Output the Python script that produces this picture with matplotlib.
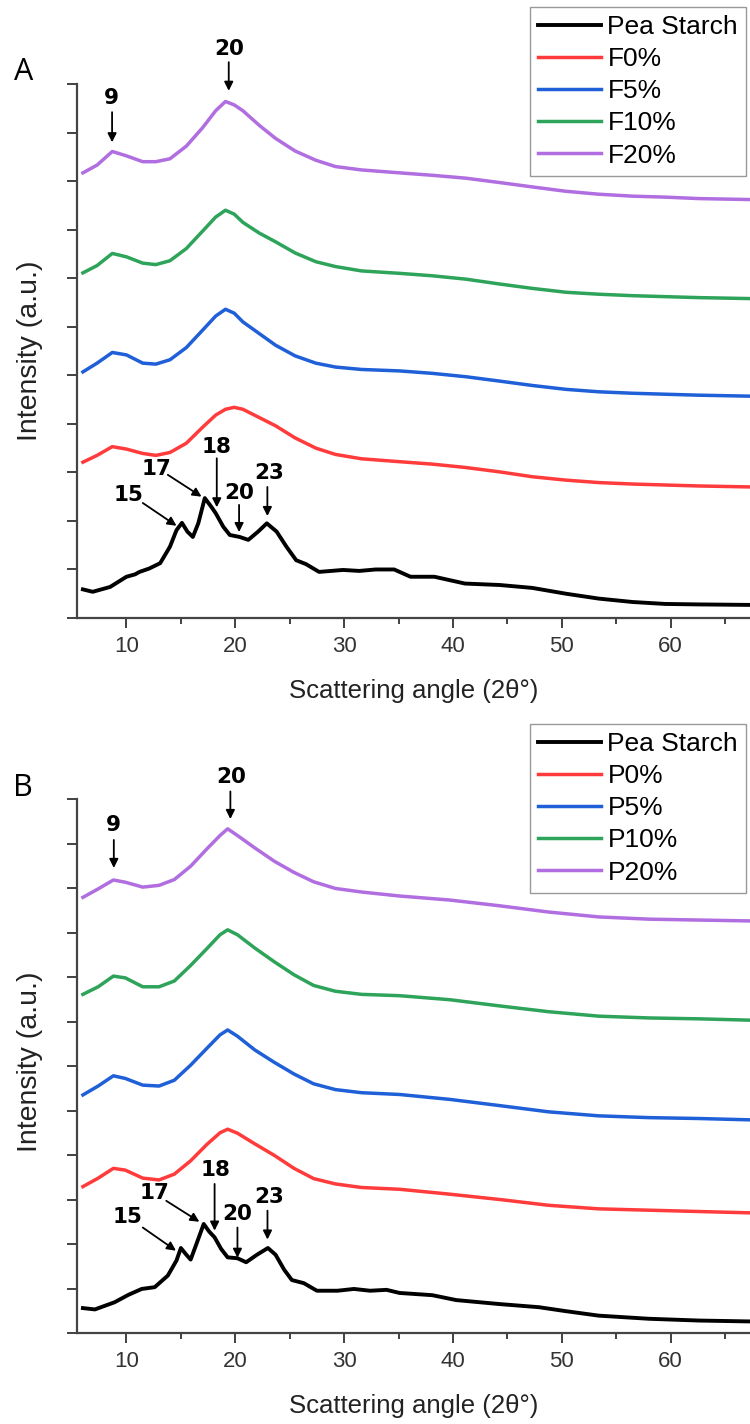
import matplotlib.pyplot as plt

# ---- panel A : F series ----
angle_pea_a = [6.0, 6.9, 8.5, 10.0, 10.8, 11.2, 12.1, 13.1, 14.0, 14.6, 15.1, 15.6, 16.1, 16.6, 17.2,
               17.8, 18.2, 18.9, 19.5, 20.4, 21.2, 22.1, 22.9, 23.8, 24.7, 25.6, 26.5, 27.7, 29.9,
               31.4, 32.9, 34.6, 36.1, 38.3, 41.1, 44.3, 47.3, 50.4, 53.4, 56.5, 59.5, 62.6, 67.3]
pea_a = [0.59, 0.54, 0.64, 0.85, 0.90, 0.95, 1.02, 1.13, 1.47, 1.81, 1.96, 1.78, 1.67, 1.95, 2.47,
         2.29, 2.16, 1.88, 1.71, 1.67, 1.61, 1.78, 1.95, 1.78, 1.47, 1.19, 1.11, 0.95, 0.99,
         0.97, 1.00, 1.00, 0.85, 0.85, 0.71, 0.68, 0.62, 0.50, 0.40, 0.33, 0.29, 0.28, 0.27]

angle_f = [6.0, 7.3, 8.7, 10.0, 11.5, 12.7, 14.0, 15.5, 17.0, 18.2, 19.1, 19.9, 20.7, 22.2, 23.7,
           25.5, 27.4, 29.2, 31.6, 35.1, 38.1, 41.2, 44.3, 47.3, 50.4, 53.4, 56.5, 59.5, 62.6, 67.3]
f0 = [3.21, 3.35, 3.53, 3.48, 3.39, 3.35, 3.41, 3.60, 3.93, 4.18, 4.30, 4.34, 4.30, 4.13, 3.96,
      3.71, 3.50, 3.37, 3.28, 3.22, 3.17, 3.10, 3.01, 2.91, 2.84, 2.79, 2.76, 2.74, 2.72, 2.70]
f5 = [5.07, 5.25, 5.47, 5.42, 5.25, 5.23, 5.32, 5.57, 5.93, 6.22, 6.36, 6.28, 6.10, 5.86, 5.62,
      5.40, 5.25, 5.17, 5.12, 5.09, 5.04, 4.97, 4.88, 4.79, 4.71, 4.66, 4.63, 4.61, 4.59, 4.57]
f10 = [7.11, 7.26, 7.51, 7.44, 7.31, 7.28, 7.36, 7.61, 7.97, 8.26, 8.40, 8.32, 8.15, 7.93, 7.75,
       7.52, 7.34, 7.24, 7.15, 7.10, 7.05, 6.98, 6.88, 6.79, 6.71, 6.67, 6.64, 6.62, 6.60, 6.58]
f20 = [9.17, 9.33, 9.61, 9.52, 9.40, 9.40, 9.46, 9.72, 10.10, 10.45, 10.64, 10.57, 10.45, 10.15, 9.88,
       9.62, 9.43, 9.30, 9.23, 9.17, 9.12, 9.06, 8.97, 8.88, 8.79, 8.73, 8.69, 8.67, 8.64, 8.62]

# ---- panel B : P series ----
angle_pea_b = [6.0, 7.1, 8.9, 10.2, 11.4, 12.6, 13.8, 14.6, 15.0, 15.5, 15.9, 16.4, 17.1, 17.6,
               18.1, 18.7, 19.3, 20.2, 21.0, 22.0, 23.0, 23.7, 24.5, 25.2, 26.3, 27.5, 29.4, 30.9,
               32.4, 33.9, 35.1, 38.1, 40.3, 44.3, 47.9, 50.4, 53.4, 58.0, 62.6, 67.3]
pea_b = [0.56, 0.53, 0.69, 0.86, 0.99, 1.03, 1.29, 1.63, 1.91, 1.76, 1.65, 1.98, 2.45, 2.28,
         2.15, 1.89, 1.70, 1.68, 1.59, 1.76, 1.91, 1.76, 1.42, 1.19, 1.12, 0.95, 0.95, 0.99,
         0.95, 0.97, 0.90, 0.85, 0.74, 0.65, 0.58, 0.49, 0.39, 0.32, 0.28, 0.26]

angle_p = [6.0, 7.4, 8.8, 9.9, 11.5, 13.0, 14.4, 15.9, 17.4, 18.6, 19.3, 20.2, 21.8, 23.6, 25.4,
           27.2, 29.2, 31.6, 35.1, 39.7, 44.3, 48.8, 53.4, 58.0, 62.6, 67.3]
p0 = [3.29, 3.48, 3.70, 3.66, 3.48, 3.44, 3.57, 3.87, 4.24, 4.50, 4.58, 4.49, 4.25, 3.99, 3.70,
      3.47, 3.35, 3.27, 3.23, 3.12, 3.00, 2.87, 2.79, 2.76, 2.73, 2.70]
p5 = [5.35, 5.55, 5.78, 5.72, 5.57, 5.55, 5.68, 6.02, 6.40, 6.70, 6.81, 6.67, 6.36, 6.08, 5.82,
      5.60, 5.47, 5.40, 5.36, 5.25, 5.11, 4.97, 4.88, 4.84, 4.82, 4.79]
p10 = [7.61, 7.78, 8.02, 7.98, 7.78, 7.78, 7.91, 8.26, 8.64, 8.95, 9.06, 8.95, 8.65, 8.34, 8.05,
       7.81, 7.68, 7.61, 7.58, 7.49, 7.35, 7.22, 7.12, 7.08, 7.06, 7.03]
p20 = [9.79, 9.98, 10.18, 10.13, 10.02, 10.06, 10.19, 10.49, 10.88, 11.18, 11.33, 11.18, 10.90, 10.60, 10.35,
       10.14, 9.99, 9.91, 9.82, 9.73, 9.60, 9.46, 9.35, 9.30, 9.28, 9.26]

colors = ["black", "#ff3b3b", "#1f5fd8", "#2ea35a", "#b06ee0"]
labels_a = ["Pea Starch", "F0%", "F5%", "F10%", "F20%"]
labels_b = ["Pea Starch", "P0%", "P5%", "P10%", "P20%"]

# peak labels: (text, text x, text y, arrow x from, y from, arrow x to, y to)
notes_a = [("9", 8.65, 10.72, 8.68, 10.42, 8.68, 9.80),
           ("20", 19.4, 11.72, 19.4, 11.45, 19.4, 10.86),
           ("15", 10.15, 2.53, 11.5, 2.37, 14.6, 1.90),
           ("17", 12.75, 3.06, 13.8, 2.95, 16.9, 2.50),
           ("18", 18.3, 3.52, 18.3, 3.29, 18.3, 2.28),
           ("20", 20.4, 2.57, 20.35, 2.33, 20.35, 1.77),
           ("23", 23.15, 2.98, 22.95, 2.70, 22.95, 2.10)]
notes_b = [("9", 8.8, 11.42, 8.84, 11.08, 8.84, 10.45),
           ("20", 19.6, 12.5, 19.55, 12.17, 19.55, 11.55),
           ("15", 10.1, 2.6, 11.5, 2.37, 14.55, 1.85),
           ("17", 12.6, 3.15, 13.66, 2.97, 16.7, 2.50),
           ("18", 18.15, 3.67, 18.1, 3.35, 18.1, 2.30),
           ("20", 20.2, 2.68, 20.2, 2.37, 20.2, 1.69),
           ("23", 23.1, 3.06, 22.96, 2.75, 22.96, 2.10)]

plt.rcParams["font.family"] = ["Liberation Sans", "DejaVu Sans"]

fig = plt.figure(figsize=(7.5, 14.24), dpi=100)
ax_a = fig.add_axes([0.1033, 0.5660, 0.8967, 0.3750])
ax_b = fig.add_axes([0.1033, 0.0639, 0.8967, 0.3750])


def draw_panel(ax, angle_pea, pea, angle, curves, labels, notes, ymax, letter, letter_y, leg_top):
    ax.plot(angle_pea, pea, color=colors[0], lw=2.8, label=labels[0])
    for i, c in enumerate(curves):
        ax.plot(angle, c, color=colors[i + 1], lw=2.5, label=labels[i + 1])

    ax.set_xlim(5.5, 67.3)
    ax.set_ylim(0, ymax)
    ax.set_xticks([10, 20, 30, 40, 50, 60])
    ax.set_xticks([15, 25, 35, 45, 55, 65], minor=True)
    ax.set_yticks(range(ymax + 1))
    ax.set_yticklabels([])
    ax.tick_params(axis="x", which="major", direction="out", length=7, width=1.3,
                   labelsize=16, pad=6, colors="#333333")
    ax.tick_params(axis="x", which="minor", direction="out", length=4, width=1.3, colors="#333333")
    ax.tick_params(axis="y", direction="out", length=7, width=1.3, colors="#333333")
    for s in ["top", "right"]:
        ax.spines[s].set_visible(False)
    for s in ["left", "bottom"]:
        ax.spines[s].set_linewidth(1.6)
        ax.spines[s].set_color("#444444")

    ax.set_xlabel("Scattering angle (2θ°)", fontsize=18.5, color="#222222")
    ax.xaxis.set_label_coords(0.5, -0.115)

    for txt, tx, ty, x0, y0, x1, y1 in notes:
        ax.text(tx, ty, txt, ha="center", va="center", fontsize=15.5, fontweight="bold",
                family="DejaVu Sans")
        ax.annotate("", xy=(x1, y1), xytext=(x0, y0), annotation_clip=False,
                    arrowprops=dict(arrowstyle="-|>", color="black", lw=1.3, mutation_scale=13,
                                    shrinkA=0, shrinkB=0))

    ax.legend(loc="upper right", bbox_to_anchor=(746 / 750, leg_top), bbox_transform=fig.transFigure,
              fontsize=19, frameon=True, fancybox=False, edgecolor="#999999", framealpha=1,
              borderpad=0.3, labelspacing=0.31, handlelength=2.4, handletextpad=0.25,
              borderaxespad=0)

    fig.text(0.031, letter_y, letter, fontsize=22, family="Open Sans", ha="center", va="center")


draw_panel(ax_a, angle_pea_a, pea_a, angle_f, [f0, f5, f10, f20], labels_a, notes_a, 11,
           "A", 1 - 72 / 1424, 1 - 7 / 1424)
draw_panel(ax_b, angle_pea_b, pea_b, angle_p, [p0, p5, p10, p20], labels_b, notes_b, 12,
           "B", 1 - 788 / 1424, 1 - 724 / 1424)

fig.text(0.04, 1 - 351 / 1424, "Intensity (a.u.)", rotation=90, fontsize=20.5, ha="center",
         va="center", color="#222222")
fig.text(0.04, 1 - 1062 / 1424, "Intensity (a.u.)", rotation=90, fontsize=20.5, ha="center",
         va="center", color="#222222")

fig.savefig("out.png", dpi=100)
